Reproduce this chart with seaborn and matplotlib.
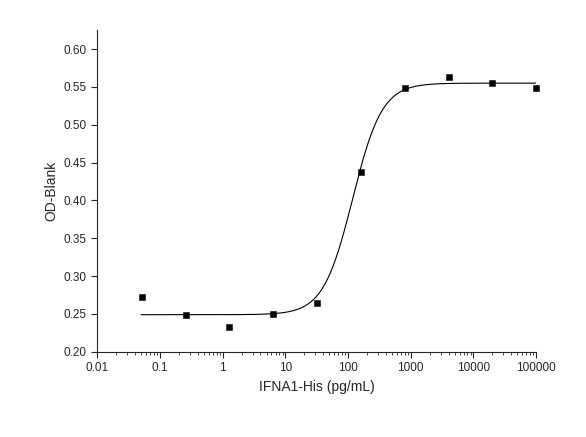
import matplotlib
matplotlib.use('Agg')
import matplotlib.pyplot as plt
import numpy as np
import pandas as pd
import seaborn as sns
from matplotlib.ticker import FixedLocator, FixedFormatter, LogLocator, NullFormatter

# measured points
conc = [0.051, 0.256, 1.28, 6.4, 32, 160, 800, 4000, 20000, 100000]
od = [0.272, 0.248, 0.233, 0.250, 0.265, 0.437, 0.548, 0.563, 0.555, 0.548]

# 4PL fit parameters
bottom, top, ec50, hill = 0.249, 0.555, 118.0, 1.85

xticks = [0.01, 0.1, 1, 10, 100, 1000, 10000, 100000]
xlabels = ['0.01', '0.1', '1', '10', '100', '1000', '10000', '100000']
yticks = [0.20, 0.25, 0.30, 0.35, 0.40, 0.45, 0.50, 0.55, 0.60]

sns.set_style('ticks')
plt.rcParams['font.family'] = ['Liberation Sans', 'DejaVu Sans']

fig = plt.figure(figsize=(5.86, 4.37), dpi=100)
ax = fig.add_axes([0.166, 0.195, 0.749, 0.736])

xs = np.logspace(np.log10(0.05), 5, 400)
fit = bottom + (top - bottom) / (1 + (ec50 / xs) ** hill)
sns.lineplot(x=xs, y=fit, ax=ax, color='black', linewidth=0.8)
sns.scatterplot(data=pd.DataFrame({'c': conc, 'od': od}), x='c', y='od', ax=ax,
                marker='s', s=22, color='black', edgecolor='black', zorder=3, clip_on=False)

ax.set_xscale('log')
ax.set_xlim(0.01, 100000)
ax.set_ylim(0.20, 0.625)
ax.xaxis.set_major_locator(FixedLocator(xticks))
ax.xaxis.set_major_formatter(FixedFormatter(xlabels))
ax.xaxis.set_minor_locator(LogLocator(base=10, subs=np.arange(2, 10)))
ax.xaxis.set_minor_formatter(NullFormatter())
ax.set_yticks(yticks)
ax.set_yticklabels([f'{v:.2f}' for v in yticks])
ax.tick_params(labelsize=8.5, direction='out', length=4, width=0.8)
ax.tick_params(which='minor', length=2)
ax.set_xlabel('IFNA1-His (pg/mL)', fontsize=10)
ax.set_ylabel('OD-Blank', fontsize=10)
sns.despine(ax=ax)

fig.savefig('out.png', dpi=100)
